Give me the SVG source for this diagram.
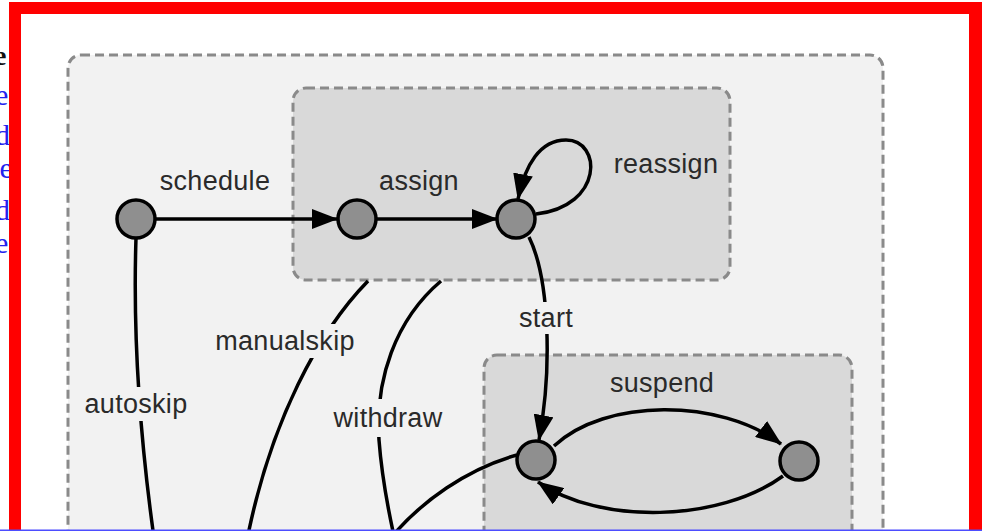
<svg xmlns="http://www.w3.org/2000/svg" width="982" height="531" viewBox="0 0 982 531">
<defs>
<style>
.grp{stroke:#8a8a8a;stroke-width:3;stroke-dasharray:9 5;}
.outer{fill:#f2f2f2;}
.inner{fill:#d9d9d9;}
.node{fill:#8f8f8f;stroke:#000;stroke-width:3.5;}
.edge{fill:none;stroke:#000;stroke-width:3.5;}
.lbl{font-family:"Liberation Sans",Arial,sans-serif;font-size:27px;letter-spacing:0.3px;fill:#2a2a2a;text-anchor:middle;}
.bgo{fill:#f2f2f2;}
.frag{font-family:"Liberation Serif","Times New Roman",serif;font-size:30px;fill:#2222ee;}
</style>
<marker id="arr" viewBox="0 0 26 20" refX="25" refY="10" markerWidth="26" markerHeight="20" markerUnits="userSpaceOnUse" orient="auto">
<path d="M0,0 L26,10 L0,20 Z" fill="#000"/>
</marker>
</defs>
<rect x="0" y="0" width="982" height="531" fill="#fff"/>
<g id="page-fragments">
<text x="-6" y="65" font-family="Liberation Serif,serif" font-size="28" font-weight="bold" fill="#111">e</text>
<text class="frag" x="-5" y="105">e</text>
<text class="frag" x="-5" y="145">d</text>
<text class="frag" x="-8" y="178">.e</text>
<text class="frag" x="-5" y="220">d</text>
<text class="frag" x="-5" y="253">e</text>
</g>
<g id="group-outer">
<rect class="grp outer" x="68" y="55" width="815" height="520" rx="13"/>
</g>
<g id="group-assign">
<rect class="grp inner" x="293" y="88" width="437" height="192" rx="13"/>
</g>
<g id="group-suspend">
<rect class="grp inner" x="484" y="355" width="368" height="220" rx="13"/>
</g>
<g id="connectors">
<path class="edge" d="M156,219 L337,219" marker-end="url(#arr)"/>
<path class="edge" d="M377,219 L497,219" marker-end="url(#arr)"/>
<path class="edge" d="M536,214 C604,206 602,140 566,140 C540,140 525,165 518,199" marker-end="url(#arr)"/>
<path class="edge" d="M529,237 C550,280 552,370 539,440" marker-end="url(#arr)"/>
<path class="edge" d="M554,446 C605,398 720,398 781,444" marker-end="url(#arr)"/>
<path class="edge" d="M783,476 C720,522 600,525 538,482" marker-end="url(#arr)"/>
<path class="edge" d="M136,238 C133,330 140,440 155,545"/>
<path class="edge" d="M368,281 C320,330 270,420 246,545"/>
<path class="edge" d="M441,281 C395,320 375,380 379,440 C382,480 388,510 396,545"/>
<path class="edge" d="M517,455 C470,468 420,500 385,545"/>
</g>
<g id="labels">
<rect class="bgo" x="82" y="387" width="108" height="34"/>
<rect class="bgo" x="212" y="324" width="146" height="34"/>
<rect class="bgo" x="330" y="399" width="116" height="38"/>
<rect class="bgo" x="515" y="302" width="62" height="32"/>
<text class="lbl" x="215" y="190">schedule</text>
<text class="lbl" x="419" y="190">assign</text>
<text class="lbl" x="666" y="173">reassign</text>
<text class="lbl" x="546" y="327">start</text>
<text class="lbl" x="285" y="350">manualskip</text>
<text class="lbl" x="136" y="413">autoskip</text>
<text class="lbl" x="388" y="427">withdraw</text>
<text class="lbl" x="662" y="392">suspend</text>
</g>
<g id="node-new"><circle class="node" cx="136" cy="219" r="19"/></g>
<g id="node-assigned"><circle class="node" cx="357" cy="219" r="19"/></g>
<g id="node-reassigned"><circle class="node" cx="516" cy="219" r="19"/></g>
<g id="node-started"><circle class="node" cx="536" cy="460" r="19"/></g>
<g id="node-suspended"><circle class="node" cx="799" cy="461" r="19"/></g>
<g id="frame">
<rect x="9" y="2" width="973" height="12" fill="#ff0000"/>
<rect x="9" y="2" width="12" height="529" fill="#ff0000"/>
<rect x="969" y="2" width="13" height="529" fill="#ff0000"/>
<rect x="0" y="529.5" width="982" height="1.5" fill="#4d4dff"/>
</g>
</svg>
